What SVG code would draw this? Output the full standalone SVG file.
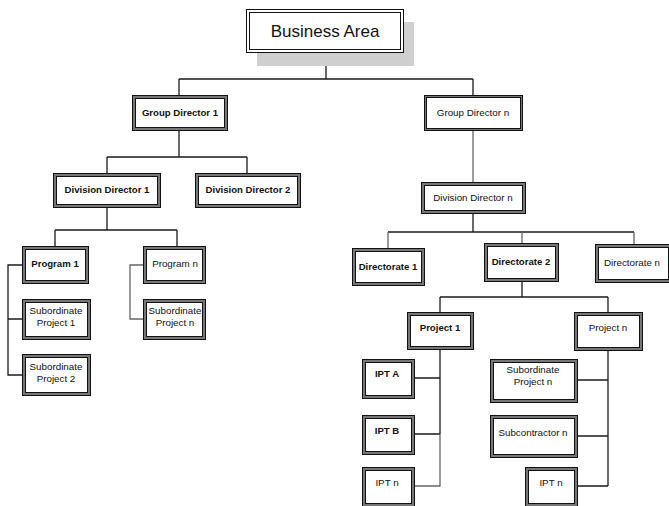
<svg xmlns="http://www.w3.org/2000/svg" width="669" height="506" viewBox="0 0 669 506">
<style>
.o{fill:#777;stroke:#111;stroke-width:1}
.i{fill:#fff;stroke:#111;stroke-width:1}
.t{font-family:"Liberation Sans",Arial,sans-serif;font-size:9.8px;fill:#111;text-anchor:middle}
.b{font-weight:bold;font-size:9.6px}
.c{fill:none;stroke:#1a1a1a;stroke-width:1.3}
.g{stroke:#666}
</style>
<rect width="669" height="506" fill="#fff"/>
<g id="connectors">
<path class="c" d="M326 53V79M179 79H473M179 79V95M473 79V95"/>
<path class="c" d="M179 130V157M107 157H247M107 157V173M247 157V173"/>
<path class="c g" d="M473 130V182"/>
<path class="c" d="M107 207V230M55 230H177M55 230V246M177 230V246"/>
<path class="c" d="M22 265H8V375H22M8 319H22"/>
<path class="c g" d="M143 265H130V319H143"/>
<path class="c" d="M473 213V232M388 232H634"/>
<path class="c g" d="M388 232V248M522 232V243M634 232V244"/>
<path class="c" d="M522 281V297M440 297H608M440 297V312M608 297V312"/>
<path class="c" d="M440 349V434M414 378H440M414 434H440"/>
<path class="c g" d="M440 434V486H414"/>
<path class="c" d="M608 350V486M577 380H608M577 436H608M577 486H608"/>
</g>
<g id="business-area">
<rect x="257" y="22" width="157" height="44" fill="#cfcfcf"/>
<rect x="246.5" y="9.5" width="157" height="43" fill="#fff" stroke="#111" stroke-width="1"/>
<rect x="249.5" y="12.5" width="151" height="37" fill="#fff" stroke="#111" stroke-width="1"/>
<text class="t" x="325" y="37" style="font-size:17px">Business Area</text>
</g>
<g id="gd1"><rect class="o" x="132.5" y="95.5" width="95" height="35"/><rect class="i" x="135.5" y="98.5" width="89" height="29"/><text class="t b" x="180" y="116">Group Director 1</text></g>
<g id="gdn"><rect class="o" x="424.5" y="95.5" width="98" height="35"/><rect class="i" x="426.5" y="97.5" width="94" height="31"/><text class="t" x="473" y="116">Group Director n</text></g>
<g id="dd1"><rect class="o" x="53.5" y="173.5" width="107" height="34"/><rect class="i" x="56.5" y="176.5" width="101" height="28"/><text class="t b" x="107" y="193">Division Director  1</text></g>
<g id="dd2"><rect class="o" x="195.5" y="173.5" width="105" height="34"/><rect class="i" x="198.5" y="176.5" width="99" height="28"/><text class="t b" x="248" y="193">Division Director 2</text></g>
<g id="ddn"><rect class="o" x="421.5" y="182.5" width="104" height="31"/><rect class="i" x="424.5" y="185.5" width="98" height="25"/><text class="t" x="473" y="201">Division Director n</text></g>
<g id="p1"><rect class="o" x="22.5" y="246.5" width="66" height="37"/><rect class="i" x="25.5" y="249.5" width="60" height="31"/><text class="t b" x="55" y="267">Program 1</text></g>
<g id="sp1"><rect class="o" x="22.5" y="299.5" width="68" height="40"/><rect class="i" x="25.5" y="302.5" width="62" height="34"/><text class="t" x="56" y="314">Subordinate</text><text class="t" x="56" y="326">Project 1</text></g>
<g id="sp2"><rect class="o" x="22.5" y="354.5" width="68" height="41"/><rect class="i" x="25.5" y="357.5" width="62" height="35"/><text class="t" x="56" y="370">Subordinate</text><text class="t" x="56" y="382">Project 2</text></g>
<g id="pn"><rect class="o" x="143.5" y="246.5" width="62" height="37"/><rect class="i" x="146.5" y="249.5" width="56" height="31"/><text class="t" x="175" y="267">Program n</text></g>
<g id="spn"><rect class="o" x="143.5" y="299.5" width="62" height="40"/><rect class="i" x="146.5" y="302.5" width="56" height="34"/><text class="t" x="175" y="314">Subordinate</text><text class="t" x="175" y="326">Project n</text></g>
<g id="dir1"><rect class="o" x="352.5" y="248.5" width="72" height="37"/><rect class="i" x="355.5" y="251.5" width="66" height="31"/><text class="t b" x="388" y="270">Directorate 1</text></g>
<g id="dir2"><rect class="o" x="484.5" y="243.5" width="74" height="38"/><rect class="i" x="487.5" y="246.5" width="68" height="32"/><text class="t b" x="521" y="265">Directorate 2</text></g>
<g id="dirn"><rect class="o" x="595.5" y="244.5" width="76" height="38"/><rect class="i" x="598.5" y="247.5" width="70" height="32"/><text class="t" x="632" y="266">Directorate n</text></g>
<g id="proj1"><rect class="o" x="407.5" y="312.5" width="66" height="37"/><rect class="i" x="410.5" y="315.5" width="60" height="31"/><text class="t b" x="440" y="331">Project 1</text></g>
<g id="projn"><rect class="o" x="574.5" y="312.5" width="68" height="38"/><rect class="i" x="577.5" y="315.5" width="62" height="32"/><text class="t" x="608" y="331">Project n</text></g>
<g id="ipta"><rect class="o" x="362.5" y="359.5" width="52" height="39"/><rect class="i" x="365.5" y="362.5" width="46" height="33"/><text class="t b" x="387" y="377">IPT A</text></g>
<g id="iptb"><rect class="o" x="362.5" y="415.5" width="52" height="39"/><rect class="i" x="365.5" y="418.5" width="46" height="33"/><text class="t b" x="387" y="434">IPT B</text></g>
<g id="iptn1"><rect class="o" x="362.5" y="467.5" width="52" height="39"/><rect class="i" x="365.5" y="470.5" width="46" height="33"/><text class="t" x="387" y="486">IPT n</text></g>
<g id="subpn"><rect class="o" x="490.5" y="359.5" width="87" height="43"/><rect class="i" x="493.5" y="362.5" width="81" height="37"/><text class="t" x="533" y="373">Subordinate</text><text class="t" x="533" y="385">Project n</text></g>
<g id="subc"><rect class="o" x="490.5" y="415.5" width="87" height="42"/><rect class="i" x="493.5" y="418.5" width="81" height="36"/><text class="t" x="533" y="436">Subcontractor n</text></g>
<g id="iptn2"><rect class="o" x="525.5" y="467.5" width="52" height="39"/><rect class="i" x="528.5" y="470.5" width="46" height="33"/><text class="t" x="551" y="486">IPT n</text></g>
</svg>
